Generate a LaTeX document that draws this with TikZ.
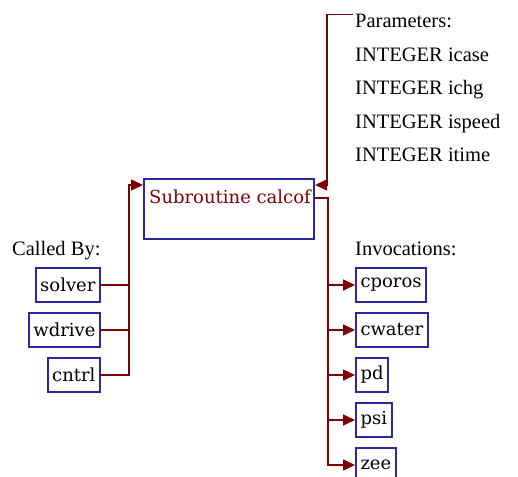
\documentclass[tikz,border=0pt]{standalone}
\usepackage{fontspec}
\setmainfont{Liberation Serif}
\newfontfamily\boxfont{DejaVu Serif}
\usetikzlibrary{arrows.meta,positioning}
\definecolor{callred}{RGB}{128,0,0}
\definecolor{boxblue}{RGB}{40,40,160}
\tikzset{
  callbox/.style={draw=boxblue, line width=2pt, minimum height=34pt, inner xsep=4.5pt, inner ysep=0pt, font=\boxfont\fontsize{18}{21}\selectfont},
  link/.style={draw=callred, line width=1.6pt},
  tip/.style={-{Triangle[length=12pt,width=11pt]}},
  plain/.style={font=\fontsize{20.5}{24}\selectfont, inner sep=0pt, anchor=base west}
}

\begin{document}
\begin{tikzpicture}[x=1pt,y=-1pt]
\useasboundingbox (0,0) rectangle (518,476);
% the routine
\node[callbox, anchor=north west, minimum width=170pt, minimum height=60pt] (calcof) at (143,178) {};
\node[anchor=base west, inner sep=0pt, text=callred, font=\boxfont\fontsize{18}{21}\selectfont] (calcoftitle) at (149,203) {Subroutine calcof};

% callers
\node[plain] (calledby) at (12,255) {Called By:};
\node[callbox, anchor=north east] (solver) at (101,267) {solver};
\node[callbox, below=9pt of solver.south east, anchor=north east] (wdrive) {wdrive};
\node[callbox, below=9pt of wdrive.south east, anchor=north east] (cntrl) {cntrl};
\coordinate (lbus) at (129,185);
\draw[link,tip] (cntrl.east) -| (lbus) -- (lbus -| calcof.west);
\foreach \c in {solver,wdrive}
  \draw[link] (\c.east) -- (\c.east -| lbus);

% parameters
\node[plain] (params) at (355,28) {Parameters:};
\foreach \p [count=\k] in {icase,ichg,ispeed,itime}
  \node[plain] (param\k) at (355,29+33*\k) {INTEGER \p};
\coordinate (pin) at (327,185);
\draw[link,tip] ([xshift=-2pt]params.north west) -| (pin) -- (pin -| calcof.east);

% invocations
\node[plain] (invoc) at (355,255) {Invocations:};
\node[callbox, anchor=north west] (cporos) at (355,267) {cporos};
\node[callbox, below=9pt of cporos.south west, anchor=north west] (cwater) {cwater};
\node[callbox, below=9pt of cwater.south west, anchor=north west] (pd) {pd};
\node[callbox, below=9pt of pd.south west, anchor=north west] (psi) {psi};
\node[callbox, below=9pt of psi.south west, anchor=north west] (zee) {zee};
\coordinate (rbus) at (328,198);
\draw[link,tip] (calcof.east |- rbus) -- (rbus) |- (zee.west);
\foreach \c in {cporos,cwater,pd,psi}
  \draw[link,tip] (\c.west -| rbus) -- (\c.west);
\end{tikzpicture}
\end{document}
